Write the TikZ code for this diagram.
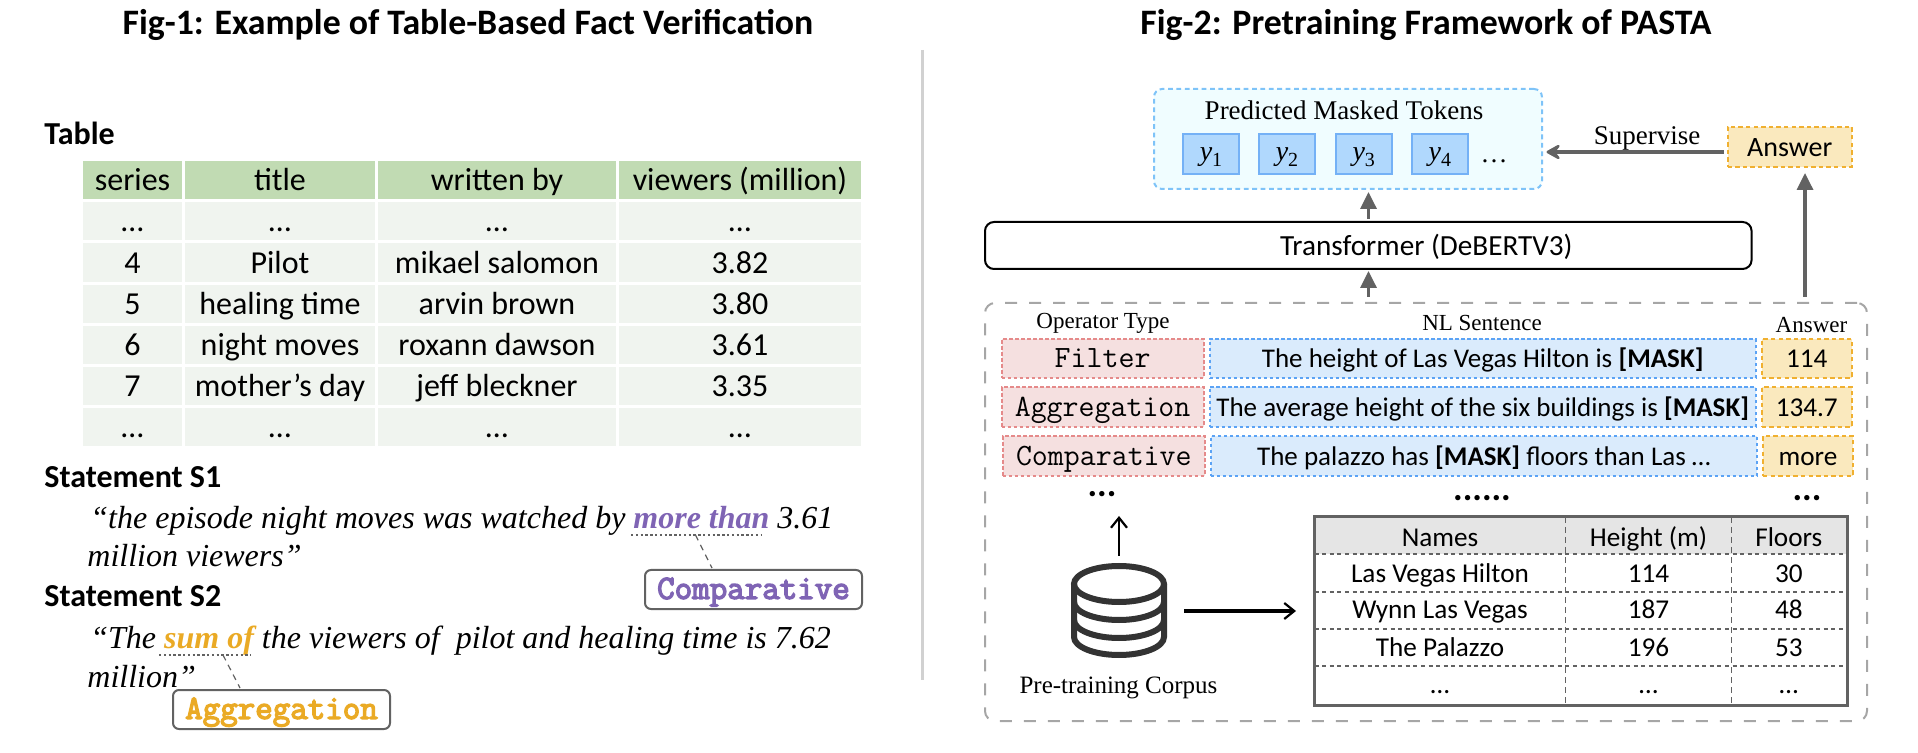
\documentclass[tikz,border=0pt]{standalone}
\usepackage{fontspec}
\usetikzlibrary{arrows.meta}
\setmainfont{Liberation Serif}
\newfontfamily\calf{Carlito}
\newfontfamily\monb[FakeBold=4]{Latin Modern Mono}
\definecolor{hdrgreen}{HTML}{C1DBB3}
\definecolor{rowgreen}{HTML}{F0F4EF}
\definecolor{purp}{HTML}{7F64B4}
\definecolor{ambr}{HTML}{EAAA25}
\definecolor{gr}{HTML}{626262}
\definecolor{lblue}{HTML}{7EC3F8}
\definecolor{pinkf}{HTML}{F5E0E0}
\definecolor{pinkd}{HTML}{E58A8A}
\definecolor{bluef}{HTML}{DAEBFC}
\definecolor{blued}{HTML}{5BA3F5}
\definecolor{yelf}{HTML}{FAE9BE}
\definecolor{yeld}{HTML}{F0B030}
\definecolor{tokf}{HTML}{B0D8FD}
\definecolor{predf}{HTML}{F0FDFF}
\newcommand\rbox[7]{%
  \pgfmathsetmacro\cxx{(#3+#5)/2}%
  \pgfmathsetmacro\cyy{(#4+#6)/2}%
  \pgfmathsetmacro\wdd{(#5-#3)*0.5}%
  \pgfmathsetmacro\htt{(#6-#4)*0.5}%
  \node[inner sep=0pt,outer sep=0pt,text height=10.6pt,text depth=0pt,minimum width=\wdd pt,minimum height=\htt pt,#1] (#2) at (\cxx,\cyy) {#7};}
\newcommand\ytok[1]{{\fontsize{14}{16}\selectfont\itshape y}{\raisebox{-.3em}{\fontsize{10}{12}\selectfont #1}}}
\tikzset{
  title/.style={font=\calf\bfseries\fontsize{17.9}{20}\selectfont,inner sep=0pt,anchor=base},
  lab/.style={font=\calf\bfseries\fontsize{16}{19}\selectfont,anchor=base west,inner sep=0pt},
  hd/.style={fill=hdrgreen,font=\calf\fontsize{16}{19}\selectfont},
  rw/.style={fill=rowgreen,font=\calf\fontsize{16}{19}\selectfont},
  stm/.style={font=\itshape\fontsize{16}{19}\selectfont,anchor=base west,inner sep=0pt},
  opbox/.style={draw=gr,line width=1pt,rounded corners=3pt,fill=white,text height=9.4pt,font=\monb\fontsize{17}{20}\selectfont},
  undl/.style={draw=gr,line width=1pt,dash pattern=on 1.2pt off 1.2pt},
  lead/.style={draw=gr,line width=.6pt,dash pattern=on 3pt off 2.5pt},
  sr/.style={font=\fontsize{13.5}{16}\selectfont,inner sep=0pt,anchor=base},
  srh/.style={font=\fontsize{11.5}{14}\selectfont,inner sep=0pt,anchor=base},
  bigdots/.style={font=\calf\bfseries\fontsize{18}{20}\selectfont,inner sep=0pt,anchor=base},
  pred/.style={draw=lblue,fill=predf,line width=1pt,dash pattern=on 2.4pt off 1.8pt,rounded corners=4pt},
  tok/.style={draw=blued!85!white,fill=tokf,line width=1pt,text height=7pt},
  ans/.style={draw=yeld,fill=yelf,line width=1pt,dash pattern=on 2.2pt off 1.6pt,text height=9.2pt,font=\calf\fontsize{13.6}{17}\selectfont},
  opr/.style={draw=pinkd,fill=pinkf,line width=1pt,dash pattern=on 1.8pt off 1.2pt,text height=9.4pt,font=\ttfamily\fontsize{15.5}{18}\selectfont},
  nls/.style={draw=blued,fill=bluef,line width=1pt,dash pattern=on 1.8pt off 1.2pt,text height=9.2pt,font=\calf\fontsize{13.5}{17}\selectfont},
  grayup/.style={draw=gr,fill=gr,line width=1.7pt,-{Triangle[length=8.5pt,width=8pt]}},
  blk/.style={draw=black,line width=1.2pt,-{Straight Barb[length=5pt,width=8pt,line width=1.1pt]}},
  tc/.style={font=\calf\fontsize{13.6}{17}\selectfont,anchor=base,inner sep=0pt},
  tdash/.style={draw=gr,line width=1pt,dash pattern=on 2pt off 1.8pt},
  vdash/.style={draw=gr,line width=.6pt,dash pattern=on 3pt off 2pt},
}
\begin{document}
\begin{tikzpicture}[x=.5pt,y=-.5pt]
\useasboundingbox (0,0) rectangle (1918,753);
% titles
\node[title] (t1) at (468,35) {Fig-1: Example of Table-Based Fact Verification};
\node[title] (t2) at (1426,35) {Fig-2: Pretraining Framework of PASTA};
% separator
\coordinate (sepa) at (922.5,50);
\coordinate (sepb) at (922.5,680);
\draw[draw=black!18,line width=1.5pt] (sepa) -- (sepb);
% left table
\node[lab] (ltable) at (44,145) {Table};
\rbox{hd}{h1}{83}{161}{182}{199}{series}
\rbox{hd}{h2}{185}{161}{375}{199}{title}
\rbox{hd}{h3}{378}{161}{616}{199}{written by}
\rbox{hd}{h4}{619}{161}{861}{199}{viewers (million)}
\rbox{rw}{a1}{83}{202}{182}{240}{…}
\rbox{rw}{a2}{185}{202}{375}{240}{…}
\rbox{rw}{a3}{378}{202}{616}{240}{…}
\rbox{rw}{a4}{619}{202}{861}{240}{…}
\rbox{rw}{b1}{83}{243}{182}{282}{4}
\rbox{rw}{b2}{185}{243}{375}{282}{Pilot}
\rbox{rw}{b3}{378}{243}{616}{282}{mikael salomon}
\rbox{rw}{b4}{619}{243}{861}{282}{3.82}
\rbox{rw}{c1}{83}{285}{182}{323}{5}
\rbox{rw}{c2}{185}{285}{375}{323}{healing time}
\rbox{rw}{c3}{378}{285}{616}{323}{arvin brown}
\rbox{rw}{c4}{619}{285}{861}{323}{3.80}
\rbox{rw}{d1}{83}{326}{182}{364}{6}
\rbox{rw}{d2}{185}{326}{375}{364}{night moves}
\rbox{rw}{d3}{378}{326}{616}{364}{roxann dawson}
\rbox{rw}{d4}{619}{326}{861}{364}{3.61}
\rbox{rw}{e1}{83}{367}{182}{405}{7}
\rbox{rw}{e2}{185}{367}{375}{405}{mother’s day}
\rbox{rw}{e3}{378}{367}{616}{405}{jeff bleckner}
\rbox{rw}{e4}{619}{367}{861}{405}{3.35}
\rbox{rw}{f1}{83}{408}{182}{446}{…}
\rbox{rw}{f2}{185}{408}{375}{446}{…}
\rbox{rw}{f3}{378}{408}{616}{446}{…}
\rbox{rw}{f4}{619}{408}{861}{446}{…}
% statements
\node[lab] (s1) at (44,488) {Statement S1};
\node[stm] (s1a) at (90,529) {“the episode night moves was watched by \textcolor{purp}{\bfseries more than} 3.61};
\node[stm] (s1b) at (87,567) {million viewers”};
\node[lab] (s2) at (44,607) {Statement S2};
\node[stm] (s2a) at (90,648) {“The \textcolor{ambr}{\bfseries sum of} the viewers of\ \ pilot and healing time is 7.62};
\node[stm] (s2b) at (87,687) {million”};
\rbox{opbox,text=purp}{cmp}{645}{570}{862}{609}{Comparative}
\rbox{opbox,text=ambr}{agg}{173}{690}{390}{729}{Aggregation}
\coordinate (ua) at (631,535); \coordinate (ub) at (761,535);
\coordinate (ka) at (695.5,535); \coordinate (kb) at (712,568);
\draw[undl] (ua) -- (ub);
\draw[lead] (ka) -- (kb);
\coordinate (va) at (159,655); \coordinate (vb) at (250.6,655);
\coordinate (wa) at (223,655); \coordinate (wb) at (240,688);
\draw[undl] (va) -- (vb);
\draw[lead] (wa) -- (wb);
% Fig 2 top
\rbox{pred}{predbox}{1154}{89}{1542}{189}{}
\node[sr] (predt) at (1344,120) {Predicted Masked Tokens};
\rbox{tok}{y1}{1183}{134}{1239}{174}{\ytok{1}}
\rbox{tok}{y2}{1259}{134}{1315}{174}{\ytok{2}}
\rbox{tok}{y3}{1335.5}{134}{1392}{174}{\ytok{3}}
\rbox{tok}{y4}{1411.6}{134}{1468}{174}{\ytok{4}}
\node[sr] (ydots) at (1494,163) {…};
\rbox{ans,font=\calf\fontsize{14}{17}\selectfont}{answer}{1727.6}{127}{1852}{167}{Answer}
\node[sr] (sup) at (1647,145) {Supervise};
\coordinate (supa) at (1723.5,152); \coordinate (supb) at (1546.5,152);
\draw[draw=gr,line width=2pt,-{Stealth[length=9pt,width=10pt,inset=4pt,round]}] (supa) -- (supb);
\rbox{draw=black,line width=1pt,rounded corners=4.5pt,fill=white,text height=9.8pt,font=\calf\fontsize{14.6}{17}\selectfont}{trans}{985}{222}{1751.6}{269}{\hspace*{58pt}Transformer (DeBERTV3)}
\coordinate (ta) at (1368.5,219); \coordinate (tb) at (1368.5,192);
\draw[grayup] (ta) -- (tb);
\coordinate (ua2) at (1368.5,297); \coordinate (ub2) at (1368.5,271);
\draw[grayup] (ua2) -- (ub2);
\coordinate (ra) at (1805,297); \coordinate (rb) at (1805,173);
\draw[grayup] (ra) -- (rb);
% big dashed box
\rbox{draw=black!35,line width=1pt,dash pattern=on 6pt off 6pt,rounded corners=5pt}{big}{985}{303}{1867}{721}{}
\node[srh] (oh) at (1103,329) {Operator Type};
\node[srh] (nh) at (1482,331) {NL Sentence};
\node[srh] (ah) at (1811.5,333) {Answer};
\rbox{opr}{o1}{1001.6}{339}{1203.6}{378}{Filter}
\rbox{opr}{o2}{1001.6}{387}{1203.6}{427}{Aggregation}
\rbox{opr}{o3}{1002.8}{436}{1204.8}{476}{Comparative}
\rbox{nls}{n1}{1209.6}{339}{1755.8}{378}{The height of Las Vegas Hilton is \textbf{[MASK]}}
\rbox{nls}{n2}{1209.6}{387}{1755.8}{427}{The average height of the six buildings is \textbf{[MASK]}}
\rbox{nls}{n3}{1210.8}{436}{1757}{476}{The palazzo has \textbf{[MASK]} floors than Las …}
\rbox{ans}{r1}{1761.8}{339}{1851.7}{378}{114}
\rbox{ans}{r2}{1761.8}{387}{1851.7}{427}{134.7}
\rbox{ans}{r3}{1763}{436}{1853}{476}{more}
\node[bigdots] (dd1) at (1102,497) {...};
\node[bigdots] (dd2) at (1482,501) {......};
\node[bigdots] (dd3) at (1807,501) {...};
% database
\coordinate (dbtop) at (1119,584);
\draw[draw=black!80,line width=3pt] (dbtop) ellipse (45 and 18);
\draw[draw=black!80,line width=3pt,line cap=round] (1074,584) -- (1074,637) arc[start angle=180,end angle=360,x radius=45,y radius=-18] -- (1164,584);
\draw[draw=black!80,line width=3pt] (1074,602) arc[start angle=180,end angle=360,x radius=45,y radius=-18];
\draw[draw=black!80,line width=3pt] (1074,620) arc[start angle=180,end angle=360,x radius=45,y radius=-18];
\node[sr,font=\fontsize{12.5}{15}\selectfont] (corp) at (1118.5,693) {Pre-training Corpus};
\coordinate (da) at (1119,556); \coordinate (db) at (1119,516);
\draw[blk] (da) -- (db);
\coordinate (ea) at (1184,611); \coordinate (eb) at (1296,611);
\draw[blk,line width=1.6pt] (ea) -- (eb);
% right table
\path[fill=black!10] (1314.5,517) rectangle (1847.5,554);
\node[tc] (n0) at (1440,546) {Names};
\node[tc] (h0) at (1648.5,546) {Height (m)};
\node[tc] (fl0) at (1788.8,546) {Floors};
\node[tc] (n1x) at (1440,582) {Las Vegas Hilton};
\node[tc] (h1x) at (1648.5,582) {114};
\node[tc] (f1x) at (1788.8,582) {30};
\node[tc] (n2x) at (1440,618) {Wynn Las Vegas};
\node[tc] (h2x) at (1648.5,618) {187};
\node[tc] (f2x) at (1788.8,618) {48};
\node[tc] (n3x) at (1440,656) {The Palazzo};
\node[tc] (h3x) at (1648.5,656) {196};
\node[tc] (f3x) at (1788.8,656) {53};
\node[tc] (n4x) at (1440,693) {…};
\node[tc] (h4x) at (1648.5,693) {…};
\node[tc] (f4x) at (1788.8,693) {…};
\foreach \yy in {554,592,629,666} \draw[tdash] (1314.5,\yy) -- (1847.5,\yy);
\foreach \xx in {1565.7,1731.8} \draw[vdash] (\xx,517) -- (\xx,705);
\draw[draw=gr,line width=1.5pt] (1314.5,517) rectangle (1847.5,705);
\end{tikzpicture}
\end{document}
